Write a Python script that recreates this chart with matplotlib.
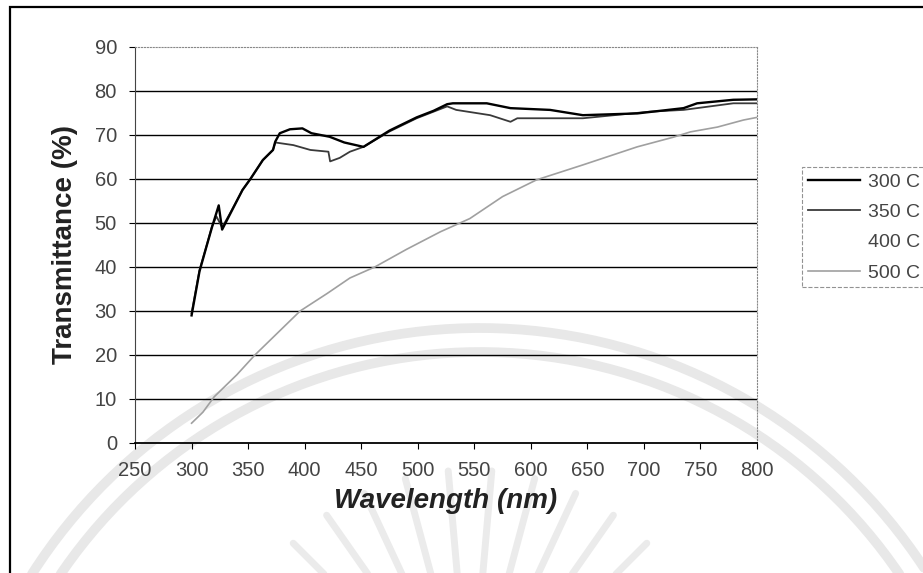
import numpy as np
import matplotlib.pyplot as plt
from matplotlib.patches import Rectangle

plt.rcParams['font.family'] = ['Liberation Sans', 'DejaVu Sans']

# annealing temperatures
labels = ["300 C", "350 C", "400 C", "500 C"]

wl_300 = [300, 307, 313, 318, 324, 327, 334, 345, 352, 363, 372, 374, 378, 387, 398,
          406, 416, 422, 435, 452, 475, 499, 514, 526, 531, 561, 582, 617, 646, 694,
          735, 747, 779, 800]
t_300 = [29, 39, 44.5, 49, 54, 48.5, 52, 57.5, 60, 64.3, 66.6, 68.5, 70.4, 71.3, 71.5,
         70.4, 69.9, 69.6, 68.3, 67.3, 71, 74, 75.5, 77, 77.2, 77.2, 76.1, 75.7, 74.5, 74.9,
         76.1, 77.2, 78, 78.1]

wl_350 = [300, 307, 313, 318, 322, 327, 334, 345, 352, 363, 372, 374, 390, 405, 421,
          422.5, 431, 440, 452, 475, 499, 514, 526, 534, 564, 582, 588, 646, 705, 735,
          779, 800]
t_350 = [29.5, 39.3, 44.6, 49.2, 51.5, 49, 52.2, 57.5, 60, 64.3, 66.6, 68.3, 67.7, 66.6, 66.2,
         64, 64.8, 66.2, 67.3, 70.8, 73.8, 75.3, 76.5, 75.7, 74.5, 73, 73.8, 73.8, 75.3, 75.7,
         77.2, 77.2]

wl_400 = []
t_400 = []

wl_500 = [300, 310, 320, 340, 356, 378, 396, 420, 440, 462, 490, 520, 546, 575, 605,
          646, 694, 726, 741, 765, 788, 800]
t_500 = [4.5, 7, 10.5, 15.5, 20, 25.5, 30, 34, 37.5, 40, 44, 48, 51, 56, 59.8,
         63.2, 67.3, 69.5, 70.7, 71.8, 73.4, 74]

xticks = list(range(250, 801, 50))
yticks = list(range(0, 91, 10))

fig = plt.figure(figsize=(9.23, 5.73), dpi=100)

# faint emblem behind the chart, drawn in pixel units
bg = fig.add_axes([0, 0, 1, 1], zorder=-1)
bg.set_xlim(0, 923)
bg.set_ylim(573, 0)
bg.axis('off')
a = np.linspace(np.radians(190), np.radians(350), 200)
for r in [531, 507]:
    bg.plot(480 + r * np.cos(a), 859 + r * np.sin(a), color='#e8e8e8', lw=7,
            solid_capstyle='round')
for ang in np.linspace(205, 335, 14):
    c, s = np.cos(np.radians(ang)), np.sin(np.radians(ang))
    bg.plot([470 + 140 * c, 470 + 250 * c], [720 + 140 * s, 720 + 250 * s],
            color='#ebebeb', lw=5, solid_capstyle='round')

ax = fig.add_axes([0.1463, 0.2269, 0.6739, 0.6911])
ax.patch.set_alpha(0)

ax.plot(wl_300, t_300, color='black', lw=1.7, label=labels[0], zorder=4)
ax.plot(wl_350, t_350, color='#3a3a3a', lw=1.3, label=labels[1], zorder=3)
ax.plot(wl_400, t_400, color='white', lw=1.3, label=labels[2])
ax.plot(wl_500, t_500, color='#a0a0a0', lw=1.2, label=labels[3], zorder=3)

ax.set_xlim(250, 800)
ax.set_ylim(0, 90)
ax.set_xticks(xticks)
ax.set_yticks(yticks)
ax.tick_params(labelsize=14.5, labelcolor='#444444', length=4, pad=9)

for y in yticks[1:-1]:
    ax.axhline(y, color='black', lw=1, zorder=1)

ax.spines['left'].set_color('#444444')
ax.spines['bottom'].set_color('black')
ax.spines['bottom'].set_linewidth(1.3)
for side in ['top', 'right']:
    ax.spines[side].set_color('#888888')
    ax.spines[side].set_linestyle(':')

ax.set_xlabel('Wavelength (nm)', fontsize=20, fontweight='bold', style='italic',
              color='#222222', labelpad=6)
ax.set_ylabel('Transmittance (%)', fontsize=20, fontweight='bold',
              color='#222222', labelpad=12)

leg = fig.legend(loc='upper left', bbox_to_anchor=(0.869, 0.708), fontsize=14,
                 frameon=True, fancybox=False, handlelength=2.7, handletextpad=0.4,
                 labelspacing=0.65, borderpad=0.3, borderaxespad=0)
leg.get_frame().set_edgecolor('#777777')
leg.get_frame().set_linestyle('--')
leg.get_frame().set_linewidth(0.8)
for t in leg.get_texts():
    t.set_color('#444444')

# chart frame
fig.patches.append(Rectangle((0.011, -0.05), 1.2, 1.038, transform=fig.transFigure,
                             fill=False, edgecolor='black', lw=1.6))

fig.savefig('out.png', dpi=100)
